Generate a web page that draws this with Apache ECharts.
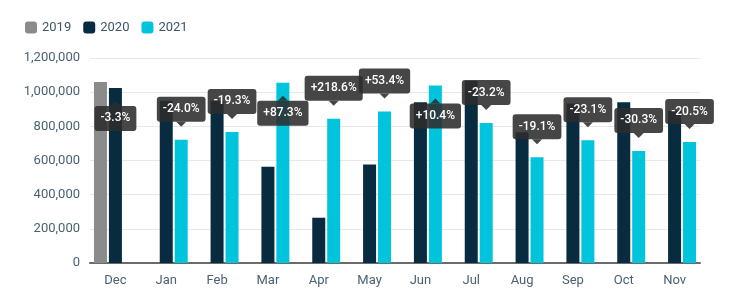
<!DOCTYPE html>
<html>
<head>
<meta charset="utf-8">
<script src="https://cdn.jsdelivr.net/npm/echarts@6/dist/echarts.min.js"></script>
<style>
  html, body { margin: 0; padding: 0; background: #fff; }
  #main { width: 745px; height: 306px; }
</style>
</head>
<body>
<div id="main"></div>
<script>
// data
const months = ['Dec', 'Jan', 'Feb', 'Mar', 'Apr', 'May', 'Jun', 'Jul', 'Aug', 'Sep', 'Oct', 'Nov'];
const sales2019 = [1060000, null, null, null, null, null, null, null, null, null, null, null];
const sales2020 = [1025000, 950000, 950000, 563000, 265000, 577000, 941000, 1066000, 765000, 934000, 941000, 891000];
const sales2021 = [null, 722000, 767000, 1055000, 845000, 887000, 1039000, 819000, 619000, 718000, 656000, 708000];
const changes = ['-3.3%', '-24.0%', '-19.3%', '+87.3%', '+218.6%', '+53.4%', '+10.4%', '-23.2%', '-19.1%', '-23.1%', '-30.3%', '-20.5%'];
const yTicks = { min: 0, max: 1200000, interval: 200000 };

const BAR_W = 13;
const BAR_GAP = 0.15;

// callouts sit on the 2021 bar, or the 2020 bar when there is no 2021 value
// [index, value, slot (0 = 2020 bar, 1 = 2021 bar), text]
const callouts = months.map(function (m, i) {
  if (sales2021[i] != null) return [i, sales2021[i], 1, changes[i]];
  return [i, sales2020[i], 0, changes[i]];
});

var myChart = echarts.init(document.getElementById('main'));

function renderCallout(params, api) {
  const p = api.coord([api.value(0), api.value(1)]);
  const slot = api.value(2);
  const text = callouts[params.dataIndex][3];
  const x = p[0] + slot * BAR_W * (1 + BAR_GAP);
  const top = params.coordSys.y;
  const boxH = 25, tri = 5, dist = 13;
  const fill = 'rgba(44,44,44,0.88)';

  let tip = p[1] - dist;
  let below = tip - tri - boxH < top;   // no room above, flip inside the bar
  let base, boxMid;
  if (below) {
    tip = p[1] + dist;
    base = tip + tri;
    boxMid = base + boxH / 2;
  } else {
    base = tip - tri;
    boxMid = base - boxH / 2;
  }
  return {
    type: 'group',
    children: [
      {
        type: 'polygon',
        shape: { points: [[x - 5, base], [x + 5, base], [x, tip]] },
        style: { fill: fill }
      },
      {
        type: 'text',
        style: {
          text: text,
          x: x,
          y: boxMid,
          align: 'center',
          verticalAlign: 'middle',
          fill: '#fff',
          fontFamily: 'Roboto',
          fontSize: 12,
          fontWeight: 500,
          lineHeight: 13,
          padding: [6, 6],
          borderRadius: 3,
          backgroundColor: fill
        }
      }
    ]
  };
}

var option = {
  backgroundColor: '#fff',
  animation: false,
  textStyle: { fontFamily: 'Roboto' },
  legend: {
    left: 20,
    top: 16,
    itemWidth: 12,
    itemHeight: 12,
    itemGap: 12,
    icon: 'roundRect',
    textStyle: { color: '#3d5566', fontSize: 13 },
    data: ['2019', '2020', '2021']
  },
  grid: { left: 90, right: 45, top: 58, bottom: 43 },
  xAxis: {
    type: 'category',
    data: months,
    axisTick: { show: false },
    axisLine: { lineStyle: { color: '#6b6b6b', width: 2 } },
    axisLabel: { color: '#4a6272', fontSize: 13, margin: 11 }
  },
  yAxis: {
    type: 'value',
    min: yTicks.min,
    max: yTicks.max,
    interval: yTicks.interval,
    axisLine: { show: false },
    axisTick: { show: false },
    splitLine: { lineStyle: { color: '#e8e8e8' } },
    axisLabel: {
      color: '#4a6272',
      fontSize: 13,
      margin: 10,
      formatter: function (v) { return v.toLocaleString('en-US'); }
    }
  },
  series: [
    {
      name: '2019', type: 'bar', data: sales2019,
      barWidth: BAR_W, barGap: (BAR_GAP * 100) + '%',
      itemStyle: { color: '#8a8c8c' }
    },
    {
      name: '2020', type: 'bar', data: sales2020,
      barWidth: BAR_W, barGap: (BAR_GAP * 100) + '%',
      itemStyle: { color: '#082b3f' }
    },
    {
      name: '2021', type: 'bar', data: sales2021,
      barWidth: BAR_W, barGap: (BAR_GAP * 100) + '%',
      itemStyle: { color: '#00c4dc' }
    },
    {
      type: 'custom',
      renderItem: renderCallout,
      data: callouts.map(function (c) { return [c[0], c[1], c[2]]; }),
      clip: false,
      z: 10,
      silent: true
    }
  ]
};

myChart.setOption(option);
</script>
</body>
</html>
